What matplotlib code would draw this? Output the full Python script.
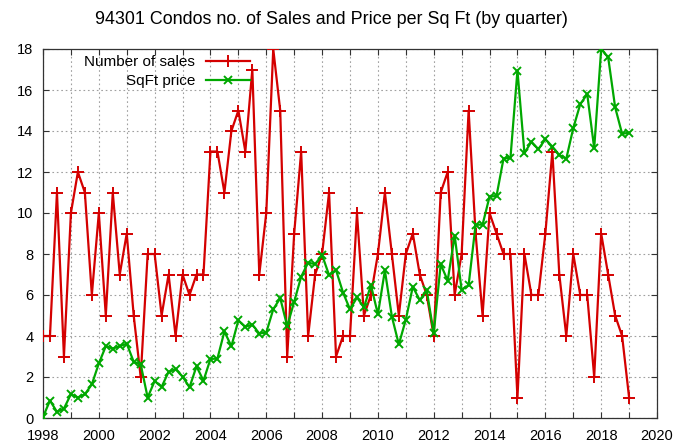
import matplotlib
matplotlib.use("Agg")
import matplotlib.pyplot as plt
import numpy as np
from matplotlib.ticker import MultipleLocator

plt.rcParams['font.family'] = ['Liberation Sans', 'DejaVu Sans']

start_year = 1998.0
sales = [4, 4, 11, 3,
         10, 12, 11, 6,
         10, 5, 11, 7,
         9, 5, 2, 8,
         8, 5, 7, 4,
         7, 6, 7, 7,
         13, 13, 11, 14,
         15, 13, 17, 7,
         10, 18, 15, 3,
         9, 13, 4, 7,
         8, 11, 3, 4,
         4, 10, 5, 6,
         8, 11, 8, 5,
         8, 9, 7, 6,
         4, 11, 12, 6,
         8, 15, 9, 5,
         10, 9, 8, 8,
         1, 8, 6, 6,
         9, 13, 7, 4,
         8, 6, 6, 2,
         9, 7, 5, 4,
         1]
sqft_price = [0.05, 0.85, 0.3, 0.46,
              1.16, 1.0, 1.16, 1.64,
              2.66, 3.5, 3.39, 3.5,
              3.63, 2.74, 2.62, 1.0,
              1.8, 1.52, 2.25, 2.38,
              2.02, 1.5, 2.52, 1.82,
              2.88, 2.9, 4.22, 3.5,
              4.76, 4.45, 4.56, 4.12,
              4.17, 5.3, 5.85, 4.48,
              5.67, 6.89, 7.58, 7.5,
              7.95, 6.97, 7.21, 6.12,
              5.3, 5.88, 5.4, 6.48,
              5.06, 7.2, 4.95, 3.59,
              4.8, 6.4, 5.75, 6.22,
              4.14, 7.5, 6.7, 8.9,
              6.25, 6.48, 9.43, 9.43,
              10.8, 10.83, 12.65, 12.7,
              16.95, 12.92, 13.48, 13.11,
              13.6, 13.24, 12.83, 12.65,
              14.14, 15.31, 15.8, 13.16,
              18.0, 17.6, 15.16, 13.86,
              13.92]
title = "94301 Condos no. of Sales and Price per Sq Ft (by quarter)"
labels = ["Number of sales", "SqFt price"]

x = start_year + 0.25 * np.arange(len(sales))

fig = plt.figure(figsize=(6.83, 4.42), dpi=100)
ax = fig.add_axes([43/683, 1-418/442, (657-43)/683, (418-49)/442])

red = '#d40000'
green = '#00a800'
ax.plot(x, sales, color=red, lw=1.6, marker='+', ms=8, mew=1.4, label=labels[0], zorder=3)
ax.plot(x, sqft_price, color=green, lw=1.6, marker='x', ms=6, mew=1.4, label=labels[1], zorder=3)

ax.set_xlim(1998, 2020)
ax.set_ylim(0, 18)
ax.xaxis.set_major_locator(MultipleLocator(2))
ax.xaxis.set_minor_locator(MultipleLocator(1))
ax.yaxis.set_major_locator(MultipleLocator(2))
ax.set_xticks(np.arange(1998, 2021, 2))
ax.set_xticklabels([str(v) for v in range(1998, 2021, 2)])

ax.grid(True, which='both', axis='x', color='#a0a0a0', ls=(0, (1.5, 2.5)), lw=0.8)
ax.grid(True, which='major', axis='y', color='#a0a0a0', ls=(0, (1.5, 2.5)), lw=0.8)
ax.set_axisbelow(True)

ax.tick_params(which='both', direction='in', top=True, right=True, labelsize=10.5, width=0.8, color='#333333')
ax.tick_params(which='major', length=4)
ax.tick_params(which='minor', length=4)
ax.tick_params(axis='x', pad=8)
ax.tick_params(axis='y', pad=7)
for s in ax.spines.values():
    s.set_linewidth(0.9)
    s.set_color('#333333')

leg = ax.legend(loc='upper right', bbox_to_anchor=((250-43)/614, (418-55)/369), frameon=False,
                markerfirst=False, handlelength=2.9, fontsize=11,
                labelspacing=0.32, handletextpad=0.7, borderaxespad=0, borderpad=0)
leg._legend_box.align = 'right'

fig.text(331/683, 1-19/442, title, ha='center', va='center', fontsize=12.9)

fig.savefig('out.png', dpi=100)
